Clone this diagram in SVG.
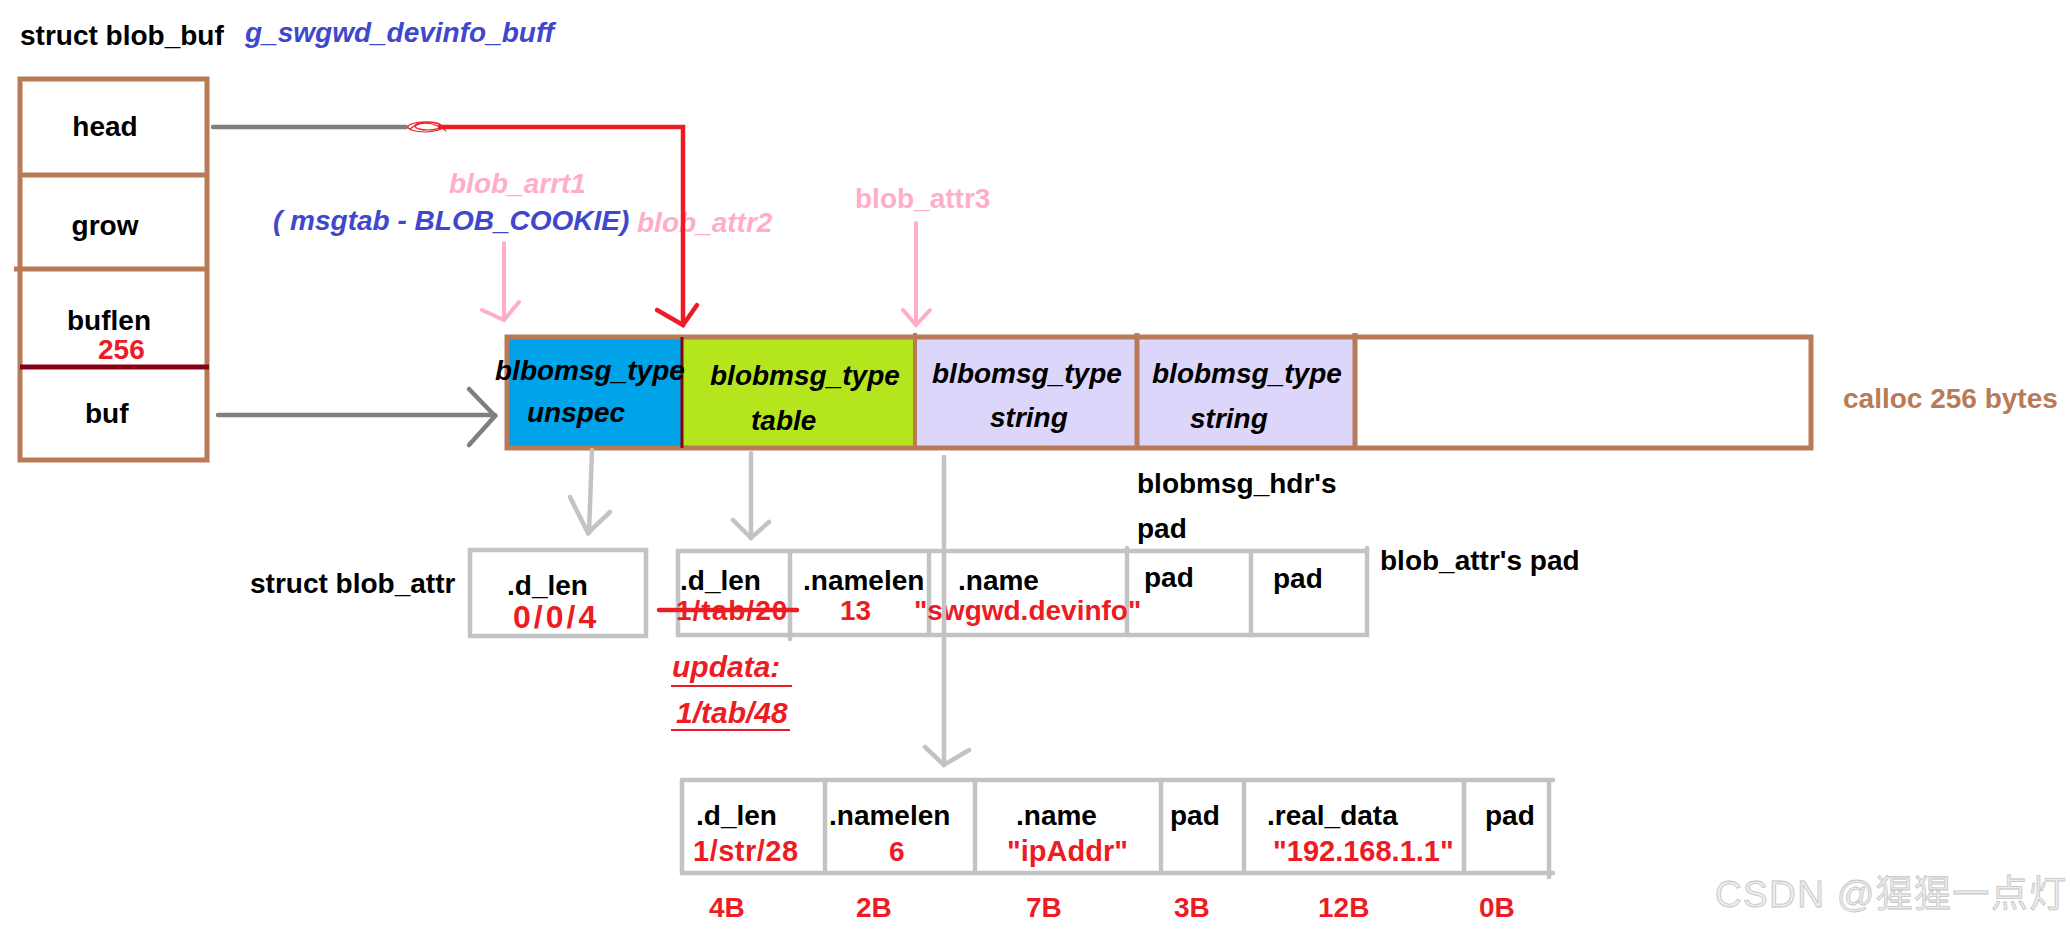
<svg xmlns="http://www.w3.org/2000/svg" width="2070" height="930" viewBox="0 0 2070 930">
<style>
  .t { font-family: "Liberation Sans", Arial, sans-serif; font-size: 28px; font-weight: bold; fill: #000; }
  .it { font-style: italic; }
  .red { fill: #ED1C24; }
  .blue { fill: #3F48CC; }
  .pink { fill: #FFAEC9; }
  .brownT { fill: #B97A57; }
  .brown { fill: none; stroke: #B97A57; stroke-width: 5; }
  .gbox { fill: none; stroke: #C3C3C3; stroke-width: 4.5; }
  .gline { stroke: #C3C3C3; stroke-width: 4.5; fill: none; stroke-linecap: round; }
  .dgline { stroke: #7F7F7F; stroke-width: 4.5; fill: none; stroke-linecap: round; }
  .rline { stroke: #ED1C24; stroke-width: 4.5; fill: none; stroke-linecap: round; }
  .pline { stroke: #FFAEC9; stroke-width: 4; fill: none; stroke-linecap: round; }
</style>
<rect width="2070" height="930" fill="#fff"/>

<!-- titles -->
<text class="t" x="20" y="45">struct blob_buf</text>
<text class="t it blue" x="245" y="42">g_swgwd_devinfo_buff</text>

<!-- struct blob_buf node -->
<g id="blob_buf">
  <rect class="brown" x="20" y="79" width="187" height="381"/>
  <line x1="20" y1="175" x2="207" y2="175" stroke="#B97A57" stroke-width="5"/>
  <line x1="14" y1="269" x2="207" y2="269" stroke="#B97A57" stroke-width="5"/>
  <line x1="20" y1="367" x2="209" y2="367" stroke="#880015" stroke-width="5"/>
  <text class="t" x="105" y="136" text-anchor="middle">head</text>
  <text class="t" x="105" y="235" text-anchor="middle">grow</text>
  <text class="t" x="67" y="330">buflen</text>
  <text class="t red" x="98" y="359">256</text>
  <text class="t" x="85" y="423">buf</text>
</g>

<!-- calloc buffer node -->
<g id="buffer">
  <rect x="507" y="337" width="175" height="111" fill="#00A2E8"/>
  <rect x="682" y="337" width="233" height="111" fill="#B5E61D"/>
  <rect x="915" y="337" width="440" height="111" fill="#DDD6FB"/>
  <rect class="brown" x="507" y="337" width="1304" height="111"/>
  <line x1="682" y1="337" x2="682" y2="448" stroke="#880015" stroke-width="3"/>
  <line x1="915" y1="333" x2="915" y2="448" stroke="#B97A57" stroke-width="4"/>
  <line x1="1137" y1="333" x2="1137" y2="448" stroke="#B97A57" stroke-width="5"/>
  <line x1="1355" y1="333" x2="1355" y2="448" stroke="#B97A57" stroke-width="5"/>
  <text class="t it" x="495" y="380">blbomsg_type</text>
  <text class="t it" x="527" y="422">unspec</text>
  <text class="t it" x="710" y="385">blobmsg_type</text>
  <text class="t it" x="751" y="430">table</text>
  <text class="t it" x="932" y="383">blbomsg_type</text>
  <text class="t it" x="990" y="427">string</text>
  <text class="t it" x="1152" y="383">blobmsg_type</text>
  <text class="t it" x="1190" y="428">string</text>
  <text class="t brownT" x="1843" y="408">calloc 256 bytes</text>
</g>

<!-- pointer labels -->
<g id="labels">
  <text class="t it pink" x="449" y="193">blob_arrt1</text>
  <text class="t it blue" x="273" y="230">( msgtab - BLOB_COOKIE)</text>
  <text class="t it pink" x="637" y="232">blob_attr2</text>
  <text class="t pink" x="855" y="208">blob_attr3</text>
  <text class="t" x="1137" y="493">blobmsg_hdr's</text>
  <text class="t" x="1137" y="538">pad</text>
  <text class="t" x="1380" y="570">blob_attr's pad</text>
  <text class="t" x="250" y="593">struct blob_attr</text>
</g>

<!-- struct blob_attr node -->
<g id="blob_attr1">
  <rect class="gbox" x="470" y="550" width="176" height="86"/>
  <text class="t" x="507" y="595">.d_len</text>
  <text class="t red" x="513" y="628" style="font-size:32px;letter-spacing:3px">0/0/4</text>
</g>

<!-- table attr node -->
<g id="blob_attr2">
  <rect class="gbox" x="678" y="551" width="689" height="84"/>
  <line class="gline" x1="790" y1="551" x2="790" y2="639"/>
  <line class="gline" x1="929" y1="551" x2="929" y2="635"/>
  <line class="gline" x1="1127" y1="548" x2="1127" y2="635"/>
  <line class="gline" x1="1251" y1="551" x2="1251" y2="635"/>
  <line class="gline" x1="1367" y1="548" x2="1367" y2="551"/>
  <text class="t" x="680" y="590">.d_len</text>
  <text class="t red" x="676" y="620" style="letter-spacing:1px">1/tab/20</text>
  <line class="rline" x1="659" y1="610" x2="797" y2="610"/>
  <text class="t" x="803" y="590">.namelen</text>
  <text class="t red" x="840" y="620">13</text>
  <text class="t" x="958" y="590">.name</text>
  <text class="t red" x="914" y="620">"swgwd.devinfo"</text>
  <text class="t" x="1144" y="587">pad</text>
  <text class="t" x="1273" y="588">pad</text>
  <text class="t it red" x="672" y="677" style="font-size:30px">updata:</text>
  <line x1="671" y1="686" x2="792" y2="686" stroke="#ED1C24" stroke-width="2"/>
  <text class="t it red" x="676" y="723" style="font-size:30px">1/tab/48</text>
  <line x1="671" y1="730" x2="790" y2="730" stroke="#ED1C24" stroke-width="2"/>
</g>

<!-- string attr node -->
<g id="blob_attr3">
  <line class="gline" x1="682" y1="780" x2="1553" y2="780"/>
  <line class="gline" x1="682" y1="873" x2="1553" y2="873"/>
  <line class="gline" x1="682" y1="780" x2="682" y2="873"/>
  <line class="gline" x1="825" y1="780" x2="825" y2="873"/>
  <line class="gline" x1="975" y1="780" x2="975" y2="873"/>
  <line class="gline" x1="1161" y1="780" x2="1161" y2="873"/>
  <line class="gline" x1="1244" y1="780" x2="1244" y2="873"/>
  <line class="gline" x1="1464" y1="780" x2="1464" y2="873"/>
  <line class="gline" x1="1549" y1="780" x2="1549" y2="877"/>
  <text class="t" x="696" y="825">.d_len</text>
  <text class="t red" x="693" y="861" style="font-size:29px;letter-spacing:0.5px">1/str/28</text>
  <text class="t" x="829" y="825">.namelen</text>
  <text class="t red" x="889" y="861">6</text>
  <text class="t" x="1016" y="825">.name</text>
  <text class="t red" x="1007" y="861" style="font-size:29px">"ipAddr"</text>
  <text class="t" x="1170" y="825">pad</text>
  <text class="t" x="1267" y="825">.real_data</text>
  <text class="t red" x="1273" y="861" style="font-size:29px">"192.168.1.1"</text>
  <text class="t" x="1485" y="825">pad</text>
  <text class="t red" x="709" y="917">4B</text>
  <text class="t red" x="856" y="917">2B</text>
  <text class="t red" x="1026" y="917">7B</text>
  <text class="t red" x="1174" y="917">3B</text>
  <text class="t red" x="1318" y="917">12B</text>
  <text class="t red" x="1479" y="917">0B</text>
</g>

<!-- connectors -->
<g id="connectors">
  <!-- head pointer -->
  <line class="dgline" x1="213" y1="127" x2="406" y2="127"/>
  <g stroke="#ED1C24" stroke-width="1.2" fill="none">
    <ellipse cx="425" cy="127" rx="17" ry="5"/>
    <ellipse cx="428" cy="126" rx="13" ry="4"/>
    <path d="M410 129 Q420 121 432 124 Q442 127 446 131"/>
  </g>
  <path class="rline" d="M440 127 L683 127 L683 325"/>
  <path class="rline" d="M657 310 L683 325 L697 305"/>
  <!-- buf pointer -->
  <line class="dgline" x1="218" y1="415" x2="495" y2="415"/>
  <path class="dgline" d="M469 389 L495 416 L469 445"/>
  <!-- pink pointers -->
  <line class="pline" x1="504" y1="243" x2="504" y2="320"/>
  <path class="pline" d="M482 310 L504 320 L519 302"/>
  <line class="pline" x1="916" y1="223" x2="916" y2="325"/>
  <path class="pline" d="M903 310 L916 325 L930 310"/>
  <!-- gray down arrows -->
  <line class="gline" x1="592" y1="450" x2="589" y2="533"/>
  <path class="gline" d="M570 497 L588 533 L610 512"/>
  <line class="gline" x1="751" y1="453" x2="751" y2="538"/>
  <path class="gline" d="M733 520 L751 538 L769 522"/>
  <line class="gline" x1="944" y1="457" x2="944" y2="765"/>
  <path class="gline" d="M925 747 L944 765 L969 750"/>
</g>

<text x="1715" y="907" textLength="351" style="font-family:'Liberation Sans','Noto Sans CJK SC',sans-serif;font-size:37px;fill:#EDEDED;stroke:#C4C4C4;stroke-width:0.8">CSDN @猩猩一点灯</text>
</svg>
